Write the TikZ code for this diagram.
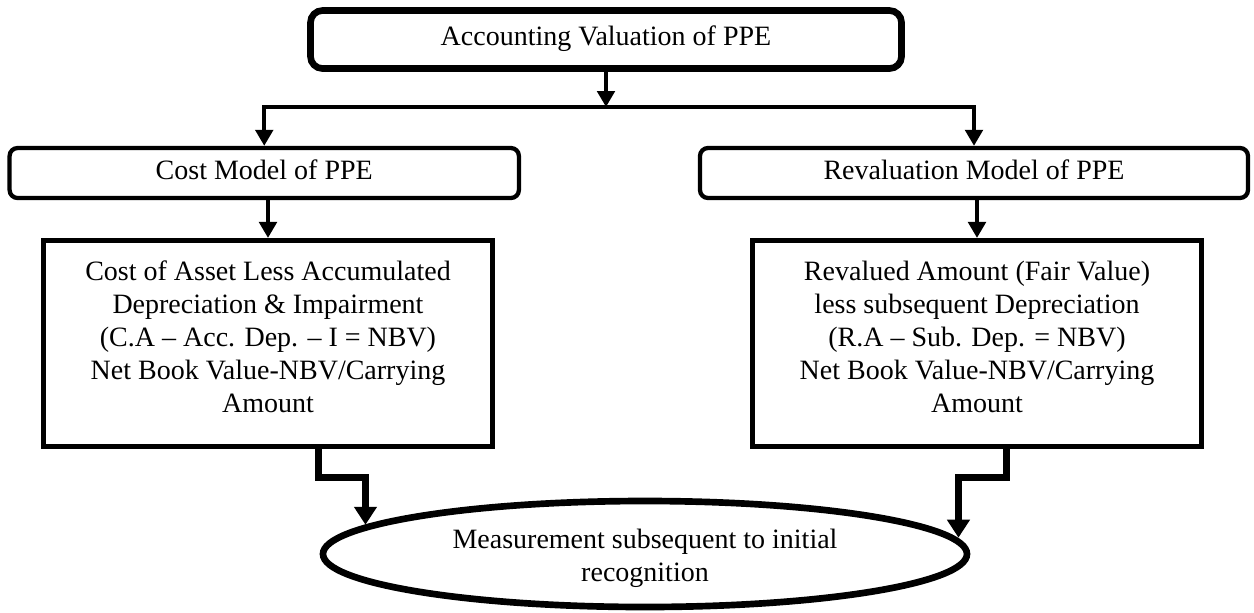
\documentclass[tikz,border=0pt]{standalone}
\usepackage{fontspec}
\setmainfont{Liberation Serif}
\usetikzlibrary{arrows.meta,shapes.geometric}
\begin{document}
\begin{tikzpicture}[x=0.75pt,y=-0.75pt,
  every node/.style={font=\fontsize{21pt}{24.6pt}\selectfont},
  topbox/.style={draw, line width=5pt, rounded corners=9pt, minimum width=443.25pt, minimum height=43.5pt, inner sep=0pt, text height=14pt, text depth=5pt},
  modelbox/.style={draw, line width=3.2pt, rounded corners=6pt, minimum height=37.5pt, inner sep=0pt, text height=14pt, text depth=5pt},
  bigbox/.style={draw, line width=3.8pt, minimum width=336.75pt, minimum height=154.5pt, inner sep=0pt},
  txt/.style={align=center, inner sep=0pt},
  oval/.style={draw, ellipse, line width=5pt, minimum width=483pt, minimum height=79.5pt, inner sep=0pt},
  conn/.style={line width=3.2pt, -{Triangle[length=12pt,width=13pt]}},
  elb/.style={line width=5.3pt, -{Triangle[length=13.5pt,width=16.5pt]}}
]
\path[use as bounding box, fill=white] (0,0) rectangle (1254,612);

\node[topbox] (top) at (606,39.5) {Accounting Valuation of PPE};
\node[modelbox, minimum width=382pt] (cm) at (264.25,173) {Cost Model of PPE};
\node[modelbox, minimum width=411pt] (rm) at (974,173) {Revaluation Model of PPE};
\node[bigbox] (cb) at (268,343.5) {};
\node[bigbox] (rb) at (977,343.5) {};
\node[txt] (cbt) at ([yshift=5pt]cb.center) {Cost of Asset Less Accumulated\\Depreciation \& Impairment\\(C.A – Acc. Dep. – I = NBV)\\Net Book Value-NBV/Carrying\\Amount};
\node[txt] (rbt) at ([yshift=5pt]rb.center) {Revalued Amount (Fair Value)\\less subsequent Depreciation\\(R.A – Sub. Dep. = NBV)\\Net Book Value-NBV/Carrying\\Amount};
\node[oval] (el) at (645,554) {};
\node[txt] (elt) at ([yshift=-3.5pt]el.center) {Measurement subsequent to initial\\recognition};

\coordinate (hb) at (top.south |- 0,107);
\draw[conn] (top.south) -- (hb);
\draw[conn] (hb) -| (cm.north);
\draw[conn] (hb) -| (rm.north);
\draw[conn] (cb.north |- cm.south) -- (cb.north);
\draw[conn] (rb.north |- rm.south) -- (rb.north);

\coordinate (ls) at ([xshift=37.9pt]cb.south);
\coordinate (lt) at ([xshift=73.1pt]cb.south);
\draw[elb] (ls) -- ++(0,28) -| (lt |- el.174);
\coordinate (rs) at ([xshift=22.1pt]rb.south);
\coordinate (rt) at ([xshift=-13.9pt]rb.south);
\draw[elb] (rs) -- ++(0,28) -| (rt |- el.3);
\end{tikzpicture}
\end{document}
